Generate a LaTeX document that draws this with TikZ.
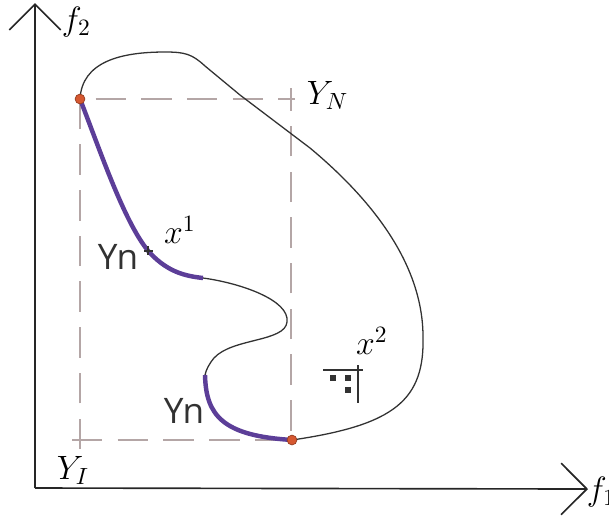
\documentclass[tikz,border=0pt]{standalone}
\usepackage{fontspec}
\newfontfamily\ynfont{Open Sans}
\usetikzlibrary{arrows.meta,positioning}
\definecolor{front}{RGB}{92,62,152}
\definecolor{boxgray}{RGB}{180,166,166}
\definecolor{ptred}{RGB}{214,88,48}
\definecolor{ink}{RGB}{50,50,50}
\tikzset{
  axis/.style={line width=0.7pt, draw=black!85, -{Straight Barb[length=11pt, width=22pt, line width=0.7pt]}},
  dashbox/.style={draw=boxgray, line width=0.85pt, dash pattern=on 13pt off 6.5pt},
  frontier/.style={draw=front, line width=1.9pt},
  border/.style={draw=ink, line width=0.55pt},
  pt/.style={circle, fill=ptred, draw=ptred!70!black, line width=0.3pt, inner sep=0pt, minimum size=4.2pt},
  mlbl/.style={font=\fontsize{14}{16}\selectfont, inner sep=1pt},
  ynlbl/.style={font=\ynfont\fontsize{15}{17}\selectfont, text=ink, inner sep=1pt},
}

\begin{document}
\begin{tikzpicture}[x=0.015cm, y=-0.015cm]
\useasboundingbox (0,0) rectangle (609,517);

% ===================== axes =============================================
\coordinate (O) at (35,488);
\coordinate (f1end) at (588,489);
\coordinate (f2end) at (35,3);
\draw[axis] (O) -- (f1end);
\draw[axis] (O) -- (f2end);
\node[mlbl, anchor=west] (f1) at (584,492) {$f_1$};
\node[mlbl, anchor=west] (f2) at (59,22) {$f_2$};

% ===================== ideal / nadir box ================================
\coordinate (YIc) at (80,440);
\coordinate (YNc) at (291,99);
\draw[dashbox] (80,449) -- (80,99) -- (295,99);
\draw[dashbox] (72,440) -- (291,440) -- (291,88);
\node[mlbl, anchor=west] (YN) at (304,95) {$Y_N$};
\node[mlbl] (YI) at (73,470) {$Y_I$};

% ===================== outer boundary ===================================
\draw[border] (80,99) .. controls (82,62) and (120,52) .. (165,52)
  .. controls (185,52) and (192,54) .. (205,66) -- (240,95) -- (310,148)
  .. controls (370,198) and (422,262) .. (423,335)
  .. controls (425,400) and (395,425) .. (292,440);
\draw[border] (203,278) .. controls (240,283) and (290,300) .. (287,322)
  .. controls (285,342) and (232,338) .. (214,358)
  .. controls (209,364) and (206,370) .. (205,375);

% ===================== efficient parts ==================================
\draw[frontier] (80,99) .. controls (100,150) and (125,225) .. (150,253)
  .. controls (168,272) and (185,276) .. (203,278);
\draw[frontier] (205,375) .. controls (206,415) and (222,436) .. (293,440);

\node[pt] (pA) at (80,99) {};
\node[pt] (pB) at (292,440) {};

% ---- labels on the curve ----
\draw[ink, line width=0.9pt] (144,251) -- (153,251) (148,246) -- (148,255);
\node[ynlbl] (yn1) at (118,257) {Yn};
\node[ynlbl] (yn2) at (184,411) {Yn};
\node[mlbl] (x1) at (180,230) {$x^1$};
\node[mlbl] (x2) at (372,341) {$x^2$};

% ---- the stray glyph below x^2 ----
\draw[ink, line width=0.6pt] (323,370) -- (363,370);
\draw[ink, line width=0.7pt] (358,365) -- (358,403);
\draw[ink, line width=1pt] (354,370) -- (362,370);
\fill[ink] (330,375) rectangle (336,381);
\fill[ink] (345,375) rectangle (351,381);
\fill[ink] (345,387) rectangle (351,393);

\end{tikzpicture}
\end{document}
